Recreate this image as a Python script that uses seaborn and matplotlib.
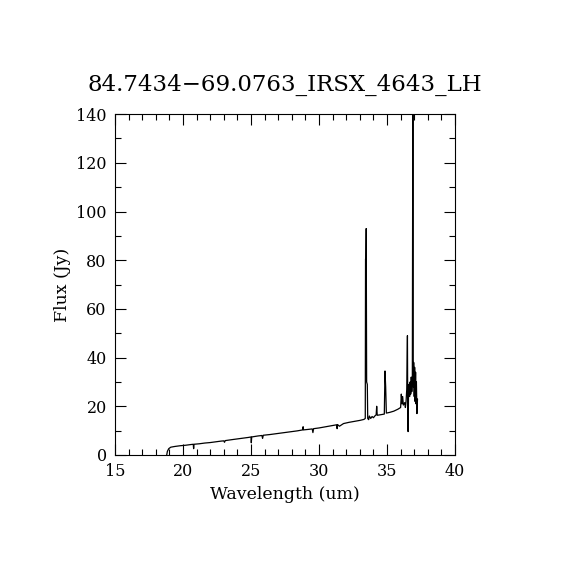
import numpy as np
import pandas as pd
import matplotlib
matplotlib.use("Agg")
import matplotlib.pyplot as plt
import seaborn as sns
from matplotlib.ticker import MultipleLocator

title = "84.7434\u221269.0763_IRSX_4643_LH"
xlabel = "Wavelength (um)"
ylabel = "Flux (Jy)"

wavelength = [
    18.80, 18.85, 18.95, 19.10, 19.40, 19.80, 20.20, 20.60, 20.75, 20.78, 20.81,
    21.20, 21.60, 22.00, 22.40, 22.80, 23.00, 23.05, 23.10, 23.60, 24.00, 24.40,
    24.80, 25.00, 25.02, 25.05, 25.50, 25.80, 25.85, 25.90, 26.40, 26.80, 27.20,
    27.60, 28.00, 28.40, 28.80, 28.83, 28.86, 29.20, 29.50, 29.55, 29.60, 30.00,
    30.40, 30.80, 31.20, 31.30, 31.33, 31.36, 31.50, 31.80, 32.20, 32.60, 33.00,
    33.30, 33.40, 33.42, 33.45, 33.47, 33.50, 33.55, 33.58, 33.65, 33.70, 33.80,
    33.90, 34.00, 34.10, 34.20, 34.24, 34.28, 34.50, 34.80, 34.85, 34.90, 34.95,
    35.20, 35.50, 35.80, 36.00, 36.05, 36.10, 36.15, 36.20, 36.30, 36.35, 36.40,
    36.45, 36.50, 36.52, 36.55, 36.58, 36.62, 36.66, 36.70, 36.74, 36.78, 36.82,
    36.86, 36.90, 36.93, 36.96, 37.00, 37.03, 37.06, 37.10, 37.13, 37.16, 37.20,
    37.24,
]
flux = [
    0.0, 1.5, 2.6, 3.2, 3.5, 3.8, 4.0, 4.3, 4.4, 2.6, 4.4,
    4.6, 4.9, 5.1, 5.4, 5.7, 5.8, 5.2, 5.9, 6.3, 6.6, 6.9,
    7.2, 7.4, 5.0, 7.4, 7.8, 8.0, 6.8, 8.1, 8.4, 8.7, 9.0,
    9.3, 9.6, 9.9, 10.3, 11.6, 10.3, 10.5, 10.7, 9.2, 10.8, 11.1,
    11.5, 11.9, 12.3, 12.4, 10.8, 12.5, 11.8, 12.9, 13.4, 13.8, 14.2,
    14.6, 15.0, 80.5, 80.0, 93.0, 30.0, 29.0, 15.0, 14.5, 16.0, 15.0,
    15.8, 15.3, 16.0, 16.5, 20.0, 16.3, 16.5, 16.8, 34.5, 28.0, 17.2,
    17.5, 18.0, 18.8, 19.5, 25.0, 21.0, 24.0, 20.5, 21.5, 19.5, 22.0,
    27.0, 49.0, 22.0, 9.6, 25.0, 29.0, 24.0, 30.0, 25.0, 32.0, 26.0,
    30.0, 160.0, 28.0, 38.0, 24.0, 36.0, 22.0, 34.0, 21.0, 30.0, 17.0,
    23.0,
]

df = pd.DataFrame({"wavelength": wavelength, "flux": flux})

sns.set_style("ticks")
plt.rcParams["font.family"] = ["DejaVu Serif"]
plt.rcParams["axes.linewidth"] = 0.8
plt.rcParams["text.color"] = "black"
plt.rcParams["axes.labelcolor"] = "black"
plt.rcParams["xtick.color"] = "black"
plt.rcParams["ytick.color"] = "black"

fig = plt.figure(figsize=(5.7, 5.7), dpi=100)
ax = fig.add_axes([0.2018, 0.2018, 0.5965, 0.598])
sns.lineplot(data=df, x="wavelength", y="flux", sort=False, estimator=None,
             color="black", linewidth=0.9, ax=ax)
ax.set_xlim(15, 40)
ax.set_ylim(0, 140)
ax.xaxis.set_major_locator(MultipleLocator(5))
ax.xaxis.set_minor_locator(MultipleLocator(1))
ax.yaxis.set_major_locator(MultipleLocator(20))
ax.yaxis.set_minor_locator(MultipleLocator(10))
ax.tick_params(which="both", direction="in", top=True, right=True,
               labelsize=11.5, width=0.8, color="black", labelcolor="black")
ax.tick_params(which="major", length=8, pad=6)
ax.tick_params(which="minor", length=4)
ax.set_xlabel(xlabel, fontsize=12.5, color="black")
ax.set_ylabel(ylabel, fontsize=12.5, color="black")
ax.set_title(title, fontsize=16.5, pad=17, color="black")
for s in ax.spines.values():
    s.set_color("black")
fig.savefig("out.png", dpi=100, facecolor="white")
